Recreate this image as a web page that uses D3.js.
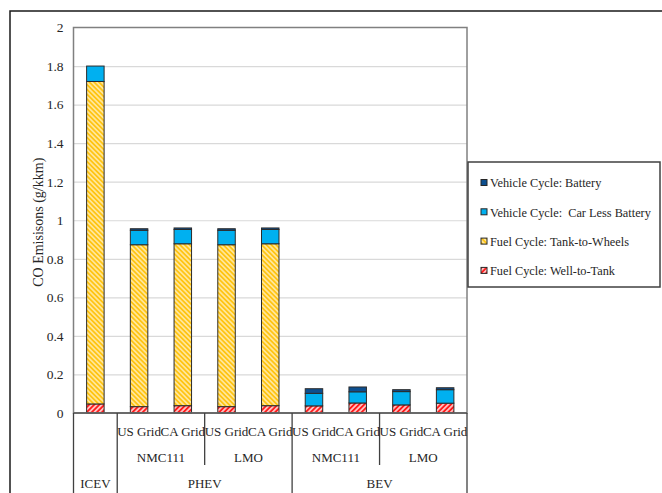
<!DOCTYPE html>
<html>
<head>
<meta charset="utf-8">
<script src="https://cdn.jsdelivr.net/npm/d3@7"></script>
<style>
  body { margin: 0; background: #fff; }
</style>
</head>
<body>
<script>
// ---------------- data ----------------
const vehicle = ["ICEV", "PHEV", "PHEV", "PHEV", "PHEV", "BEV", "BEV", "BEV", "BEV"];
const batteryType = ["", "NMC111", "NMC111", "LMO", "LMO", "NMC111", "NMC111", "LMO", "LMO"];
const grid = ["", "US Grid", "CA Grid", "US Grid", "CA Grid", "US Grid", "CA Grid", "US Grid", "CA Grid"];

const wellToTank     = [0.047, 0.033, 0.038, 0.033, 0.038, 0.037, 0.052, 0.042, 0.051];
const tankToWheels   = [1.673, 0.840, 0.840, 0.840, 0.840, 0, 0, 0, 0];
const carLessBattery = [0.080, 0.075, 0.074, 0.075, 0.074, 0.065, 0.058, 0.069, 0.070];
const batteryCycle   = [0, 0.008, 0.008, 0.008, 0.008, 0.024, 0.025, 0.010, 0.010];

const seriesNames = ["Fuel Cycle: Well-to-Tank", "Fuel Cycle: Tank-to-Wheels",
                     "Vehicle Cycle:  Car Less Battery", "Vehicle Cycle: Battery"];
const seriesKeys = ["wtt", "ttw", "clb", "bat"];
const yTicks = [0, 0.2, 0.4, 0.6, 0.8, 1, 1.2, 1.4, 1.6, 1.8, 2];

// ---------------- dimensions ----------------
const W = 662, H = 493;
const plotLeft = 73.5, plotRight = 467, plotTop = 27.5, plotBottom = 413;
const FONT = "'Liberation Serif', 'DejaVu Serif', 'Times New Roman', serif";

const svg = d3.select("body").append("svg")
    .attr("width", W)
    .attr("height", H)
    .style("font-family", FONT);

// patterns for the hatched series
const defs = svg.append("defs");
function hatch(id, bg, fg, angle, size, sw) {
    const p = defs.append("pattern")
        .attr("id", id)
        .attr("patternUnits", "userSpaceOnUse")
        .attr("width", size).attr("height", size)
        .attr("patternTransform", "rotate(" + angle + ")");
    p.append("rect").attr("width", size).attr("height", size).attr("fill", bg);
    p.append("line").attr("x1", size / 2).attr("x2", size / 2)
        .attr("y1", 0).attr("y2", size)
        .attr("stroke", fg).attr("stroke-width", sw);
}
hatch("hatchRed", "#ff1a1a", "#ffffff", 45, 3.6, 1.3);
hatch("hatchYellow", "#ffe699", "#ffc000", -45, 3.4, 1.5);

const fills = {
    wtt: "url(#hatchRed)",
    ttw: "url(#hatchYellow)",
    clb: "#00b0f0",
    bat: "#0d4f8f"
};

function label(sel, size) {
    return sel.style("font-family", FONT).style("font-size", size + "px").attr("fill", "#262626");
}

// outer chart frame (continues off the right / bottom edge)
svg.append("path")
    .attr("d", "M10," + H + "V11H" + W)
    .attr("fill", "none")
    .attr("stroke", "#1a1a1a")
    .attr("stroke-width", 1.5);

// ---------------- scales ----------------
const idx = d3.range(vehicle.length);
const x = d3.scaleBand()
    .domain(idx)
    .range([plotLeft, plotRight])
    .paddingInner(0.6)
    .paddingOuter(0.3);
const step = x.step();

const y = d3.scaleLinear()
    .domain([0, 2])
    .range([plotBottom, plotTop]);

// gridlines
svg.append("g")
    .attr("transform", "translate(" + plotLeft + ",0)")
    .call(d3.axisLeft(y).tickValues(yTicks.slice(1, -1)).tickSize(-(plotRight - plotLeft)).tickFormat(""))
    .call(g => g.select(".domain").remove())
    .call(g => g.selectAll("line").attr("stroke", "#d9d9d9").attr("stroke-width", 1.2));

// y tick labels
svg.append("g")
    .attr("transform", "translate(" + plotLeft + ",0)")
    .call(d3.axisLeft(y).tickValues(yTicks).tickSize(0).tickPadding(10)
        .tickFormat(d => String(+d.toFixed(1))))
    .call(g => g.attr("font-family", null).attr("font-size", null))
    .call(g => g.select(".domain").remove())
    .call(g => label(g.selectAll("text"), 13.5));

// y axis title
label(svg.append("text"), 14)
    .attr("transform", "translate(38," + ((plotTop + plotBottom) / 2 + 2) + ") rotate(-90)")
    .attr("text-anchor", "middle")
    .attr("dy", "0.35em")
    .text("CO Emisisons (g/kkm)");

// ---------------- bars ----------------
const rows = idx.map(i => ({
    wtt: wellToTank[i], ttw: tankToWheels[i], clb: carLessBattery[i], bat: batteryCycle[i], i: i
}));
const stacked = d3.stack().keys(seriesKeys)(rows);

svg.append("g").selectAll("g")
    .data(stacked)
    .join("g")
    .attr("fill", d => fills[d.key])
    .selectAll("rect")
    .data(d => d.filter(s => s[1] - s[0] > 0))
    .join("rect")
    .attr("x", d => x(d.data.i))
    .attr("width", x.bandwidth())
    .attr("y", d => y(d[1]))
    .attr("height", d => y(d[0]) - y(d[1]))
    .attr("stroke", "#2b2b2b")
    .attr("stroke-width", 1);

// plot area border
svg.append("rect")
    .attr("x", plotLeft).attr("y", plotTop)
    .attr("width", plotRight - plotLeft)
    .attr("height", plotBottom - plotTop)
    .attr("fill", "none")
    .attr("stroke", "#808080")
    .attr("stroke-width", 1.5);

// ---------------- multi-level category axis ----------------
const cat = svg.append("g");
cat.append("line")
    .attr("x1", plotLeft).attr("x2", plotRight)
    .attr("y1", plotBottom).attr("y2", plotBottom)
    .attr("stroke", "#595959").attr("stroke-width", 1.5);

function boundary(i) { return plotLeft + i * step; }

// separators: full height where the vehicle changes, shorter where battery type changes
const seps = [];
idx.concat([vehicle.length]).forEach(i => {
    if (i === 0 || i === vehicle.length || vehicle[i] !== vehicle[i - 1]) {
        seps.push({ x: boundary(i), y2: H });
    } else if (batteryType[i] !== batteryType[i - 1]) {
        seps.push({ x: boundary(i), y2: 465 });
    }
});
cat.selectAll(".sep")
    .data(seps)
    .join("line")
    .attr("class", "sep")
    .attr("x1", d => d.x).attr("x2", d => d.x)
    .attr("y1", plotBottom).attr("y2", d => d.y2)
    .attr("stroke", "#404040").attr("stroke-width", 1.3);

// level 1: grid
label(cat.selectAll(".grid")
    .data(idx.filter(i => grid[i] !== ""))
    .join("text"), 13)
    .attr("class", "grid")
    .attr("x", i => x(i) + x.bandwidth() / 2)
    .attr("y", 436)
    .attr("text-anchor", "middle")
    .text(i => grid[i]);

// group runs helper
function runs(labels, parent) {
    const out = [];
    idx.forEach(i => {
        const last = out[out.length - 1];
        if (last && last.label === labels[i] && (!parent || parent[i] === parent[last.start])) {
            last.end = i;
        } else {
            out.push({ label: labels[i], start: i, end: i });
        }
    });
    return out;
}

// level 2: battery chemistry
label(cat.selectAll(".bt")
    .data(runs(batteryType, vehicle).filter(r => r.label !== ""))
    .join("text"), 13)
    .attr("class", "bt")
    .attr("x", r => (boundary(r.start) + boundary(r.end + 1)) / 2)
    .attr("y", 462)
    .attr("text-anchor", "middle")
    .text(r => r.label);

// level 3: vehicle
label(cat.selectAll(".veh")
    .data(runs(vehicle))
    .join("text"), 13)
    .attr("class", "veh")
    .attr("x", r => (boundary(r.start) + boundary(r.end + 1)) / 2)
    .attr("y", 488)
    .attr("text-anchor", "middle")
    .text(r => r.label);

// ---------------- legend ----------------
const legend = svg.append("g").attr("transform", "translate(468,162)");
legend.append("rect")
    .attr("width", 192).attr("height", 125)
    .attr("fill", "#fff")
    .attr("stroke", "#404040")
    .attr("stroke-width", 1.5);

const legendOrder = seriesKeys.slice().reverse();
const item = legend.selectAll(".item")
    .data(legendOrder)
    .join("g")
    .attr("class", "item")
    .attr("transform", (d, i) => "translate(0," + (21 + i * 29.3) + ")");
item.append("rect")
    .attr("x", 13).attr("y", -3.5)
    .attr("width", 6).attr("height", 6)
    .attr("fill", d => fills[d])
    .attr("stroke", "#262626").attr("stroke-width", 1);
label(item.append("text"), 12.3)
    .attr("x", 22)
    .attr("dy", "0.35em")
    .style("white-space", "pre")
    .text(d => seriesNames[seriesKeys.indexOf(d)]);
</script>
</body>
</html>
